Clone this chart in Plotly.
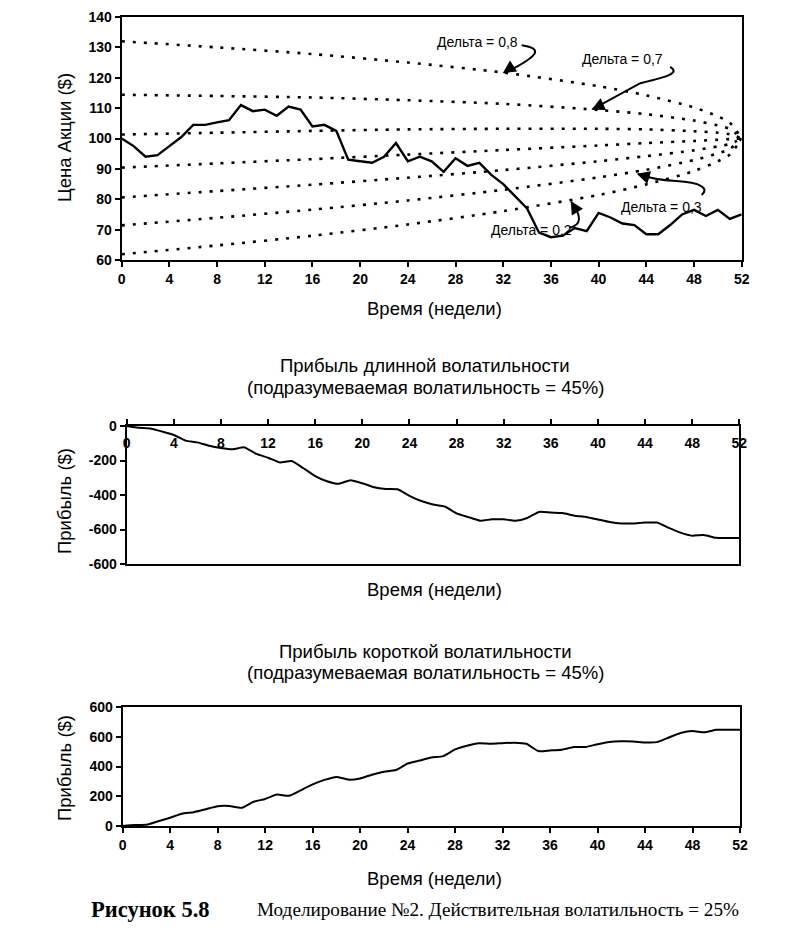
import plotly.graph_objects as go

W, H = 785, 946

# ---------------- data ----------------
weeks = list(range(53))
stock_price = [100, 97.5, 94, 94.5, 97.5, 100.5, 104.5, 104.5, 105.3, 106,
               111, 109, 109.5, 107.5, 110.5, 109.5, 104, 104.5, 102.5, 93,
               92.5, 92, 94, 98.5, 92.5, 94, 92.5, 89, 93.5, 91,
               92, 88, 85, 81, 77, 69, 67.5, 68, 70.5, 69.5,
               75.5, 74, 72, 71.5, 68.5, 68.5, 71.5, 75, 76.5, 74.5,
               76.5, 73.5, 75]

delta_weeks = [0, 8, 16, 24, 32, 40, 44, 48, 50, 51, 52]
delta_08 = [132.0, 130.0, 127.8, 125.0, 121.7, 117.2, 114.2, 110.2, 107.3, 105.2, 100]
delta_07 = [114.4, 114.0, 113.5, 112.6, 111.4, 109.4, 108.0, 105.9, 104.3, 103.1, 100]
delta_06 = [101.3, 101.9, 102.5, 103.0, 103.2, 103.2, 103.0, 102.4, 101.9, 101.4, 100]
delta_05 = [90.4, 91.8, 93.2, 94.7, 96.2, 97.7, 98.5, 99.2, 99.6, 99.8, 100]
delta_04 = [80.6, 82.7, 84.8, 87.1, 89.6, 92.5, 94.2, 96.1, 97.4, 98.2, 100]
delta_03 = [71.4, 73.9, 76.6, 79.6, 83.1, 87.2, 89.7, 92.9, 95.1, 96.6, 100]
delta_02 = [61.9, 64.8, 68.0, 71.7, 76.1, 81.4, 84.9, 89.3, 92.5, 94.7, 100]

long_vol_profit = [0, -10, -14, -32, -52, -85, -95, -115, -128, -135,
                   -124, -162, -184, -211, -203, -245, -290, -320, -335, -314,
                   -332, -355, -365, -367, -405, -435, -455, -467, -506, -528,
                   -549, -541, -541, -549, -533, -498, -502, -505, -520, -527,
                   -542, -557, -565, -565, -560, -560, -590, -618, -636, -632,
                   -648, -649, -649]

short_vol_profit = [0, 7, 8, 32, 56, 82, 93, 113, 133, 134,
                    122, 162, 182, 211, 203, 240, 280, 310, 330, 312,
                    320, 345, 365, 376, 420, 440, 460, 470, 515, 540,
                    557, 553, 557, 560, 553, 504, 508, 513, 531, 531,
                    550, 565, 569, 568, 562, 564, 595, 625, 638, 630,
                    647, 647, 647]

week_ticks = list(range(0, 53, 4))
price_ticks = list(range(60, 141, 10))
long_ticks = [0, -200, -400, -600, -800]
long_ticktext = ["0", "-200", "-400", "-600", "-600"]
short_ticks = [0, 200, 400, 600, 800]
short_ticktext = ["0", "200", "400", "600", "600"]

delta_labels = ["Дельта = 0,8", "Дельта = 0,7", "Дельта = 0,3", "Дельта = 0,2"]

# ---------------- figure ----------------
fig = go.Figure()
DOT = "3px,8px"
for curve in [delta_08, delta_07, delta_06, delta_05, delta_04, delta_03, delta_02]:
    fig.add_trace(go.Scatter(x=delta_weeks, y=curve, mode="lines",
                             line=dict(color="black", width=2.6, dash=DOT, shape="spline", smoothing=0.8),
                             xaxis="x", yaxis="y", hoverinfo="skip"))
fig.add_trace(go.Scatter(x=weeks, y=stock_price, mode="lines",
                         line=dict(color="black", width=2.4), xaxis="x", yaxis="y"))
fig.add_trace(go.Scatter(x=weeks, y=long_vol_profit, mode="lines",
                         line=dict(color="black", width=2, shape="spline", smoothing=0.5),
                         xaxis="x2", yaxis="y2"))
# carrier for the tick-label axis of the middle chart
fig.add_trace(go.Scatter(x=weeks, y=long_vol_profit, mode="lines", line=dict(width=0),
                         opacity=0, xaxis="x4", yaxis="y2", hoverinfo="skip"))
fig.add_trace(go.Scatter(x=weeks, y=short_vol_profit, mode="lines",
                         line=dict(color="black", width=2, shape="spline", smoothing=0.5),
                         xaxis="x3", yaxis="y3"))

FONT = "Liberation Sans, Arial, sans-serif"
tickfont = dict(family=FONT, size=14, color="black", weight="bold")
axis_common = dict(showline=True, linecolor="black", linewidth=2, mirror=True,
                   ticks="outside", ticklen=5, tickwidth=1.5, tickcolor="black",
                   showgrid=False, zeroline=False, tickfont=tickfont, fixedrange=True)


def px_x(px):
    return px / W


def px_y(py):
    return 1 - py / H


fig.update_layout(
    width=W, height=H, margin=dict(l=0, r=0, t=0, b=0, autoexpand=False),
    paper_bgcolor="white", plot_bgcolor="white", showlegend=False,
    xaxis=dict(domain=[px_x(121.7), px_x(741.7)], range=[0, 52], tickvals=week_ticks,
               anchor="y", **axis_common),
    yaxis=dict(domain=[px_y(260), px_y(17)], range=[60, 140], tickvals=price_ticks,
               anchor="x", **axis_common),
    xaxis2=dict(domain=[px_x(126.7), px_x(739.3)], range=[0, 52], tickvals=week_ticks,
                side="top", showticklabels=False, anchor="y2", **axis_common),
    xaxis4=dict(overlaying="x2", range=[0, 52], tickvals=week_ticks, side="bottom",
                anchor="free", position=px_y(426), showline=False, showgrid=False,
                zeroline=False, ticks="outside", ticklen=4, tickcolor="rgba(0,0,0,0)",
                tickfont=tickfont, fixedrange=True),
    yaxis2=dict(domain=[px_y(564), px_y(426)], range=[-800, 0], tickvals=long_ticks,
                ticktext=long_ticktext, anchor="x2", **axis_common),
    xaxis3=dict(domain=[px_x(122.7), px_x(740)], range=[0, 52], tickvals=week_ticks,
                anchor="y3", **axis_common),
    yaxis3=dict(domain=[px_y(826), px_y(707)], range=[0, 800], tickvals=short_ticks,
                ticktext=short_ticktext, anchor="x3", **axis_common),
)

ann = []
TITLE = dict(family=FONT, size=18, color="black")


def text_at(px, py, text, size=18.5, angle=0, font=None, xanchor="center"):
    f = dict(font or TITLE)
    f["size"] = size
    ann.append(dict(x=px_x(px), y=px_y(py), xref="paper", yref="paper", text=text,
                    showarrow=False, font=f, textangle=angle, xanchor=xanchor, yanchor="middle"))


# axis titles
text_at(434, 308, "Время (недели)")
text_at(64, 138, "Цена Акции ($)", angle=-90)
text_at(425, 366, "Прибыль длинной волатильности")
text_at(425, 387, "(подразумеваемая волатильность = 45%)")
text_at(64, 501, "Прибыль ($)", angle=-90)
text_at(434, 589, "Время (недели)")
text_at(425, 651, "Прибыль короткой волатильности")
text_at(425, 672, "(подразумеваемая волатильность = 45%)")
text_at(64, 768, "Прибыль ($)", angle=-90)
text_at(434, 878, "Время (недели)")

# caption
SERIF = "Liberation Serif, Times New Roman, serif"
text_at(89, 909, "<b>Рисунок 5.8</b>", size=22.5, font=dict(family=SERIF, color="black"), xanchor="left")
text_at(255, 909, "Моделирование №2. Действительная волатильность = 25%", size=19.2,
        font=dict(family=SERIF, color="black"), xanchor="left")

# delta labels (data coords)
lab_font = dict(family=FONT, size=14, color="black")
label_pos = [(29.8, 131.8), (42.0, 126.3), (45.25, 77.5), (34.4, 70.0)]
for (lx, ly), t in zip(label_pos, delta_labels):
    ann.append(dict(x=lx, y=ly, xref="x", yref="y", text=t, showarrow=False, font=lab_font))

# arrowheads
heads = [((31.96, 121.5), 12, -8), ((39.4, 109.5), 13, -6), ((43.2, 88.4), 13, 4), ((37.66, 79.4), 6, 10)]
for (hx, hy), ax, ay in heads:
    ann.append(dict(x=hx, y=hy, xref="x", yref="y", ax=ax, ay=ay, text="", showarrow=True,
                    arrowhead=2, arrowsize=1.3, arrowwidth=2, arrowcolor="black"))

fig.update_layout(annotations=ann)

paths = [
    "M 33.55 130.7 C 35.4 129.6 35.0 127.2 32.1 121.5",
    "M 46.0 123.6 C 46.9 121.4 45.6 120.2 43.5 118.2 L 39.5 109.7",
    "M 48.64 81.4 C 49.3 83.5 48.6 85.6 46.5 86.0 Q 44.6 86.4 43.3 88.3",
    "M 37.5 70.6 C 38.6 71.3 38.6 74.5 37.7 79.2",
]
fig.update_layout(shapes=[dict(type="path", path=p, xref="x", yref="y",
                               line=dict(color="black", width=2)) for p in paths])

fig.write_html("out.html", config={"displayModeBar": False},
               post_script="document.body.style.margin='0px';document.body.style.overflow='hidden';")
